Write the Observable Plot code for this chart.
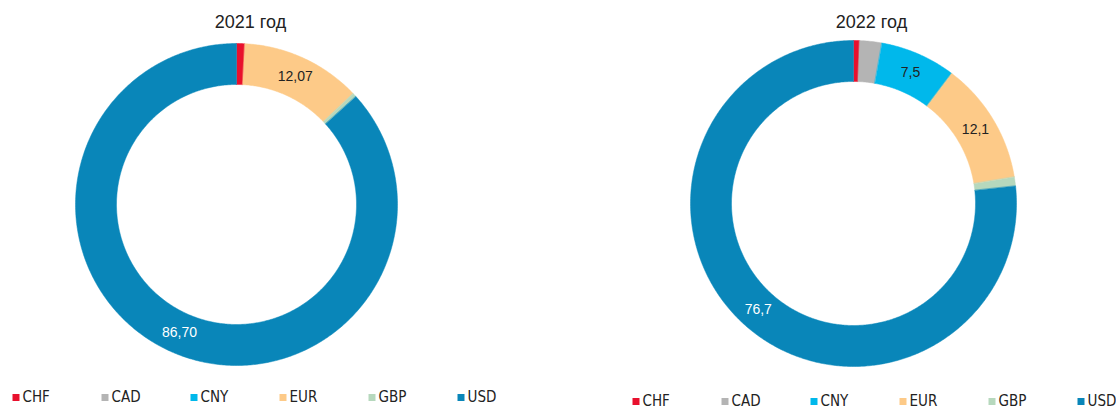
<!DOCTYPE html>
<html>
<head>
<meta charset="utf-8">
<script src="https://cdn.jsdelivr.net/npm/d3@7"></script>
<script src="https://cdn.jsdelivr.net/npm/@observablehq/plot@0.6"></script>
<style>
  body { margin: 0; background: #fff; }
  #chart svg { display: block; }
</style>
</head>
<body>
<div id="chart"></div>
<script>
// ---- data ----
const currencies = ["CHF", "CAD", "CNY", "EUR", "GBP", "USD"];
const colors = ["#e8102d", "#b4b4b4", "#00b8eb", "#fdca88", "#b6d8bd", "#0986b9"];
const years = ["2021 год", "2022 год"];
const shares2021 = [0.83, 0, 0, 12.07, 0.40, 86.70];
const shares2022 = [0.6, 2.2, 7.5, 12.1, 0.9, 76.7];
const labels2021 = [null, null, null, "12,07", null, "86,70"];
const labels2022 = [null, null, "7,5", "12,1", null, "76,7"];
const labelColors = { CNY: "#222", EUR: "#222", USD: "#ffffff" };

// ---- layout ----
const W = 1116, H = 410;
const layout = [
  { cx: 236, cy: 204, R: 161, r: 120, titleX: 250, legendX: 12, legendY: 397 },
  { cx: 853, cy: 203, R: 163, r: 122, titleX: 871, legendX: 632, legendY: 401 }
];
const series = [shares2021, shares2022];
const seriesLabels = [labels2021, labels2022];
const legendStep = 89;

const polys = [], labelRows = [], titleRows = [], legendRows = [];
series.forEach((vals, k) => {
  const L = layout[k];
  const arcs = d3.pie().sort(null).value(d => d)(vals);
  arcs.forEach((a, i) => {
    if (a.value <= 0) return;
    const a0 = a.startAngle, a1 = a.endAngle;
    const n = Math.max(2, Math.ceil((a1 - a0) / 0.01));
    const id = k + "-" + i;
    for (let j = 0; j <= n; j++) {
      const t = a0 + (a1 - a0) * j / n;
      polys.push({ id, currency: currencies[i], x: L.cx + L.R * Math.sin(t), y: L.cy - L.R * Math.cos(t) });
    }
    for (let j = n; j >= 0; j--) {
      const t = a0 + (a1 - a0) * j / n;
      polys.push({ id, currency: currencies[i], x: L.cx + L.r * Math.sin(t), y: L.cy - L.r * Math.cos(t) });
    }
    const lab = seriesLabels[k][i];
    if (lab) {
      const m = (a0 + a1) / 2, rm = (L.R + L.r) / 2;
      labelRows.push({ text: lab, currency: currencies[i], x: L.cx + rm * Math.sin(m), y: L.cy - rm * Math.cos(m) });
    }
  });
  titleRows.push({ text: years[k], x: L.titleX, y: 22 });
  currencies.forEach((c, i) => {
    legendRows.push({ currency: c, x: L.legendX + i * legendStep, y: L.legendY });
  });
});

const chart = Plot.plot({
  width: W,
  height: H,
  margin: 0,
  x: { domain: [0, W], range: [0, W], axis: null },
  y: { domain: [0, H], range: [0, H], axis: null },
  color: { domain: currencies, range: colors },
  style: { fontFamily: "'Liberation Sans', Arial, sans-serif", background: "#fff" },
  marks: [
    Plot.line(polys, { x: "x", y: "y", z: "id", fill: "currency", stroke: "currency", strokeWidth: 0.5, curve: "linear-closed" }),
    Plot.text(labelRows.filter(d => d.currency !== "USD"), { x: "x", y: "y", text: "text", fill: "#222", fontSize: 14 }),
    Plot.text(labelRows.filter(d => d.currency === "USD"), { x: "x", y: "y", text: "text", fill: "#ffffff", fontSize: 14 }),
    Plot.text(titleRows, { x: "x", y: "y", text: "text", fill: "#222", fontSize: 18, fontWeight: 500 }),
    Plot.dot(legendRows, { x: d => d.x + 3.5, y: "y", symbol: "square", r: 3.95, fill: "currency", stroke: null }),
    Plot.text(legendRows, { x: d => d.x + 10, y: "y", text: "currency", textAnchor: "start", fill: "#222", fontSize: 15,
      fontFamily: "'Liberation Sans Narrow', 'DejaVu Sans Condensed', Arial, sans-serif" })
  ]
});
document.getElementById("chart").appendChild(chart);
</script>
</body>
</html>
